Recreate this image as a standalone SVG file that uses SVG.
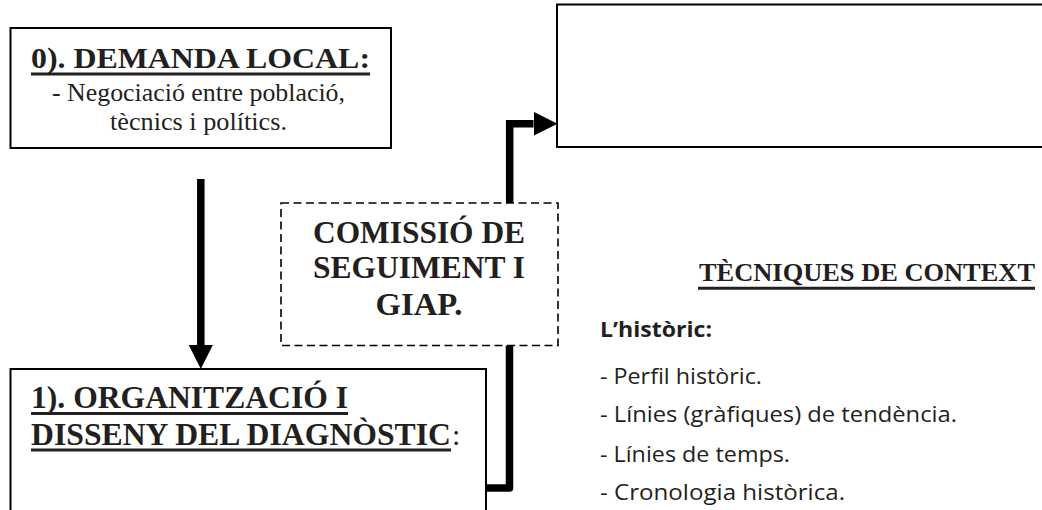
<svg xmlns="http://www.w3.org/2000/svg" width="1042" height="510" viewBox="0 0 1042 510">
  <style>
    .box { fill: #ffffff; stroke: #000000; stroke-width: 2; }
    .dash { fill: #ffffff; stroke: #000000; stroke-width: 1.6; stroke-dasharray: 8 4.5; }
    .serifb { font-family: "Liberation Serif", "Times New Roman", serif; font-weight: bold; fill: #231f20; }
    .serif { font-family: "Liberation Serif", "Times New Roman", serif; fill: #231f20; }
    .sans { font-family: "Open Sans", "Noto Sans", "Liberation Sans", sans-serif; fill: #231f20; font-size: 22px; }
    .ul { stroke: #231f20; stroke-width: 3; }
    .conn { fill: none; stroke: #000000; stroke-width: 7.5; }
  </style>
  <defs>
    <marker id="arrow" markerUnits="userSpaceOnUse" viewBox="0 0 24 24" refX="0" refY="12" markerWidth="24" markerHeight="24" orient="auto">
      <path d="M0,0 L24,12 L0,24 Z" fill="#000000"/>
    </marker>
  </defs>
  <rect width="1042" height="510" fill="#ffffff"/>

  <g id="connectors">
    <path class="conn" d="M200.8,179 L200.8,345" marker-end="url(#arrow)"/>
    <path class="conn" d="M509.7,203 L509.7,123.7 L533.5,123.7" stroke-linejoin="miter" marker-end="url(#arrow)"/>
    <path class="conn" d="M509.5,345 L509.5,488 L486,488" stroke-linejoin="round"/>
  </g>

  <g id="node-demanda">
    <rect class="box" x="10.5" y="28" width="380.5" height="120"/>
    <text class="serifb" x="200.5" y="68" font-size="30" text-anchor="middle" textLength="339" lengthAdjust="spacingAndGlyphs">0). DEMANDA LOCAL:</text>
    <line class="ul" x1="31" y1="74" x2="370" y2="74"/>
    <text class="serif" x="198.5" y="101" font-size="25" text-anchor="middle" textLength="293" lengthAdjust="spacingAndGlyphs">- Negociació entre població,</text>
    <text class="serif" x="198.5" y="130" font-size="25" text-anchor="middle" textLength="177" lengthAdjust="spacingAndGlyphs">tècnics i polítics.</text>
  </g>

  <g id="node-resultat">
    <rect class="box" x="557" y="4.5" width="600" height="142.5"/>
  </g>

  <g id="node-comissio">
    <rect class="dash" x="281" y="203" width="277" height="142.5"/>
    <text class="serifb" x="419" y="243" font-size="31" text-anchor="middle" textLength="212" lengthAdjust="spacingAndGlyphs">COMISSIÓ DE</text>
    <text class="serifb" x="419" y="278" font-size="31" text-anchor="middle" textLength="212" lengthAdjust="spacingAndGlyphs">SEGUIMENT I</text>
    <text class="serifb" x="419" y="315" font-size="31" text-anchor="middle" textLength="87" lengthAdjust="spacingAndGlyphs">GIAP.</text>
  </g>

  <g id="node-organitzacio">
    <rect class="box" x="10.5" y="369" width="475.5" height="200"/>
    <text class="serifb" x="31" y="408" font-size="31" textLength="317" lengthAdjust="spacingAndGlyphs">1). ORGANITZACIÓ I</text>
    <line class="ul" x1="31" y1="413.5" x2="348" y2="413.5"/>
    <text class="serifb" x="31" y="445" font-size="31" textLength="420" lengthAdjust="spacingAndGlyphs">DISSENY DEL DIAGNÒSTIC</text>
    <text class="serif" x="452" y="445" font-size="30">:</text>
    <line class="ul" x1="31" y1="450" x2="451" y2="450"/>
  </g>

  <g id="node-tecniques">
    <text class="serifb" x="699" y="280.5" font-size="25" textLength="336" lengthAdjust="spacingAndGlyphs">TÈCNIQUES DE CONTEXT</text>
    <line class="ul" x1="698" y1="288.3" x2="1035" y2="288.3"/>
    <text class="sans" x="600" y="337" font-weight="bold" textLength="112" lengthAdjust="spacingAndGlyphs">L’històric:</text>
    <text class="sans" x="600" y="384" textLength="162" lengthAdjust="spacingAndGlyphs">- Perfil històric.</text>
    <text class="sans" x="600" y="422" textLength="357" lengthAdjust="spacingAndGlyphs">- Línies (gràfiques) de tendència.</text>
    <text class="sans" x="600" y="462" textLength="190" lengthAdjust="spacingAndGlyphs">- Línies de temps.</text>
    <text class="sans" x="600" y="500" textLength="245" lengthAdjust="spacingAndGlyphs">- Cronologia històrica.</text>
  </g>
</svg>
